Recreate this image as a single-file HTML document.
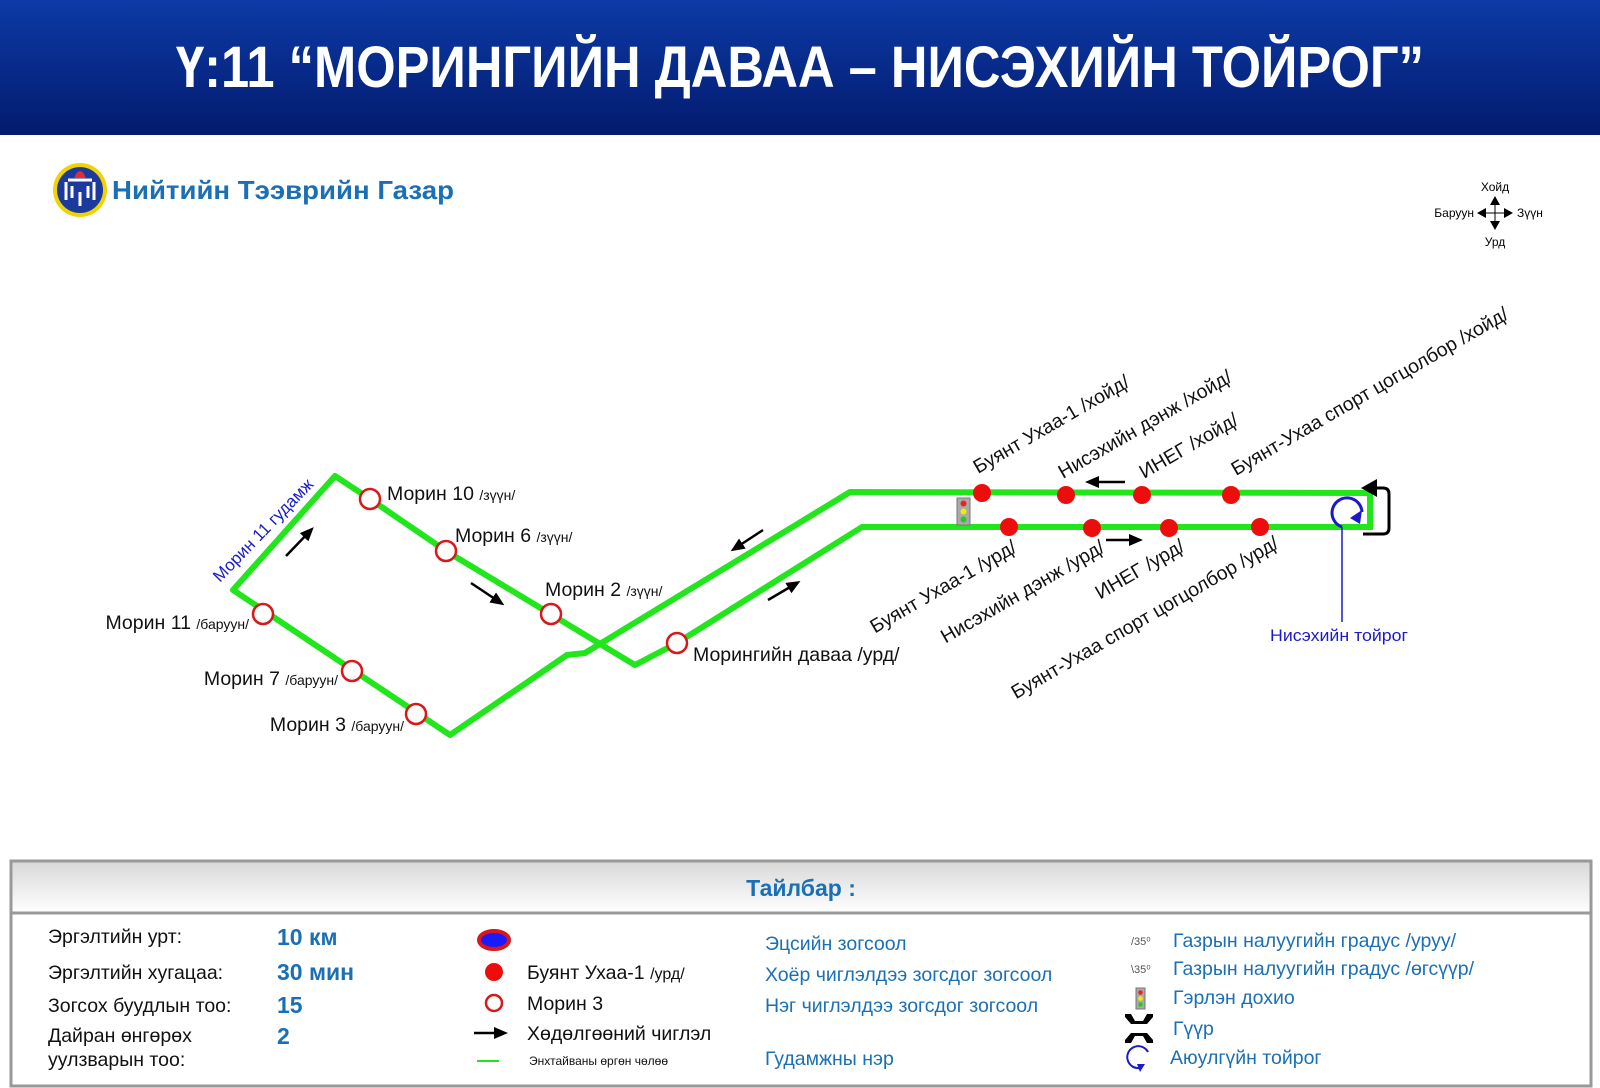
<!DOCTYPE html>
<html><head><meta charset="utf-8"><style>
html,body{margin:0;padding:0;background:#fff;}
svg{display:block;}
text{font-family:"Liberation Sans",Arial,sans-serif;}
</style></head><body>
<svg width="1600" height="1088" viewBox="0 0 1600 1088" xmlns="http://www.w3.org/2000/svg">
<defs>
<linearGradient id="hdr" x1="0" y1="0" x2="0" y2="1">
<stop offset="0" stop-color="#0c3aa6"/><stop offset="1" stop-color="#031b6e"/>
</linearGradient>
<linearGradient id="lg" x1="0" y1="0" x2="0" y2="1">
<stop offset="0" stop-color="#d9d9d9"/><stop offset="1" stop-color="#ffffff"/>
</linearGradient>
<marker id="ah2" markerWidth="14" markerHeight="12" refX="10" refY="6" orient="auto" markerUnits="userSpaceOnUse">
<path d="M0,0 L14,6 L0,12 Z" fill="#000"/></marker>
</defs>
<rect x="0" y="0" width="1600" height="135" fill="url(#hdr)"/>
<text x="800" y="87" text-anchor="middle" font-size="58" font-weight="bold" fill="#fff" textLength="1248" lengthAdjust="spacingAndGlyphs">Ү:11 “МОРИНГИЙН ДАВАА – НИСЭХИЙН ТОЙРОГ”</text>

<!-- logo -->
<circle cx="80" cy="190" r="27" fill="#f2d300"/>
<circle cx="80" cy="190" r="23" fill="#1a3a9e"/>
<path d="M68,180 h24 M66,182 v18 M94,182 v18 M72,186 v12 M88,186 v12 M80,192 v14" stroke="#fff" stroke-width="3" fill="none"/>
<path d="M74,178 q6,-14 12,0 z" fill="#e03030"/>
<text x="112" y="199" font-size="26" font-weight="bold" fill="#1a6fb5" textLength="342" lengthAdjust="spacingAndGlyphs">Нийтийн Тээврийн Газар</text>

<!-- compass -->
<g fill="#000">
<line x1="1479" y1="213" x2="1511" y2="213" stroke="#000" stroke-width="1"/>
<line x1="1495" y1="198" x2="1495" y2="228" stroke="#000" stroke-width="1"/>
<path d="M1495,196 l-5,9 h10z M1495,230 l-5,-9 h10z M1477,213 l9,-5 v10z M1513,213 l-9,-5 v10z"/>
</g>
<text x="1495" y="191" font-size="12" text-anchor="middle">Хойд</text>
<text x="1495" y="246" font-size="12" text-anchor="middle">Урд</text>
<text x="1474" y="217" font-size="12" text-anchor="end">Баруун</text>
<text x="1517" y="217" font-size="12">Зүүн</text>

<!-- routes -->
<g fill="none" stroke="#22e61c" stroke-width="6" stroke-linejoin="round">
<polyline points="1370,527 862,527 677,643 635,665 446,551 370,499 335,476 233,590 450,735 567,655 585,653 850,492 1370,493"/>
<line x1="1370" y1="490" x2="1370" y2="530"/>
</g>

<g fill="#fff" stroke="#d8181a" stroke-width="2.5">
<circle cx="370" cy="499" r="10"/>
<circle cx="446" cy="551" r="10"/>
<circle cx="551" cy="614" r="10"/>
<circle cx="677" cy="643" r="10"/>
<circle cx="263" cy="614" r="10"/>
<circle cx="352" cy="671" r="10"/>
<circle cx="416" cy="714" r="10"/>
</g>
<g fill="#ee0d0d">
<circle cx="982" cy="493" r="9"/><circle cx="1066" cy="495" r="9"/><circle cx="1142" cy="495" r="9"/><circle cx="1231" cy="495" r="9"/>
<circle cx="1009" cy="527" r="9"/><circle cx="1092" cy="528" r="9"/><circle cx="1169" cy="528" r="9"/><circle cx="1260" cy="527" r="9"/>
</g>
<rect x="957" y="498" width="13" height="27" fill="#aaa" stroke="#777"/>
<circle cx="963.5" cy="503.5" r="3" fill="#e22"/><circle cx="963.5" cy="511.5" r="3" fill="#ee0"/><circle cx="963.5" cy="519.5" r="3" fill="#2c2"/>

<!-- roundabout -->
<path d="M1342,527 A15,15 0 1 1 1362,512" fill="none" stroke="#1a1acc" stroke-width="3"/>
<path d="M1362,510 l-2,14 l-10,-6z" fill="#1a1acc"/>
<line x1="1342" y1="527" x2="1342" y2="622" stroke="#1a1acc" stroke-width="1.5"/>
<text x="1270" y="641" font-size="17" fill="#1a1acc" textLength="138" lengthAdjust="spacingAndGlyphs">Нисэхийн тойрог</text>
<path d="M1363,534 h20 q6,0 6,-6 v-34 q0,-6 -6,-6 h-10" fill="none" stroke="#000" stroke-width="3"/>
<path d="M1361,488 l16,-9 v18z" fill="#000"/>

<g stroke="#000" stroke-width="2.5" marker-end="url(#ah2)">
<line x1="286" y1="556" x2="311" y2="530"/>
<line x1="471" y1="583" x2="501" y2="603"/>
<line x1="763" y1="530" x2="734" y2="549"/>
<line x1="768" y1="600" x2="797" y2="583"/>
<line x1="1125" y1="482" x2="1089" y2="482"/>
<line x1="1106" y1="540" x2="1139" y2="540"/>
</g>

<g font-size="19.5" fill="#111">
<text x="387" y="500">Морин 10 <tspan font-size="14">/зүүн/</tspan></text>
<text x="455" y="542">Морин 6 <tspan font-size="14">/зүүн/</tspan></text>
<text x="545" y="596">Морин 2 <tspan font-size="14">/зүүн/</tspan></text>
<text x="693" y="661">Морингийн даваа /урд/</text>
<text x="249" y="629" text-anchor="end">Морин 11 <tspan font-size="14">/баруун/</tspan></text>
<text x="338" y="685" text-anchor="end">Морин 7 <tspan font-size="14">/баруун/</tspan></text>
<text x="404" y="731" text-anchor="end">Морин 3 <tspan font-size="14">/баруун/</tspan></text>
</g>
<text transform="translate(220,583) rotate(-46)" font-size="17" fill="#1a1acc">Морин 11 гудамж</text>

<g font-size="19.5" fill="#111">
<text transform="translate(978,474) rotate(-30)">Буянт Ухаа-1 /хойд/</text>
<text transform="translate(1063,479) rotate(-30)">Нисэхийн дэнж /хойд/</text>
<text transform="translate(1144,479) rotate(-30)">ИНЕГ /хойд/</text>
<text transform="translate(1236,476) rotate(-30)">Буянт-Ухаа спорт цогцолбор /хойд/</text>
<text transform="translate(1018,551) rotate(-30)" text-anchor="end">Буянт Ухаа-1 /урд/</text>
<text transform="translate(1106,551) rotate(-30)" text-anchor="end">Нисэхийн дэнж /урд/</text>
<text transform="translate(1186,550) rotate(-30)" text-anchor="end">ИНЕГ /урд/</text>
<text transform="translate(1280,547) rotate(-30)" text-anchor="end">Буянт-Ухаа спорт цогцолбор /урд/</text>
</g>

<!-- legend -->
<rect x="11" y="861" width="1580" height="225" fill="#fff" stroke="#999" stroke-width="3"/>
<rect x="12.5" y="862.5" width="1577" height="50" fill="url(#lg)"/>
<line x1="11" y1="913" x2="1591" y2="913" stroke="#999" stroke-width="3"/>
<text x="801" y="896" font-size="23" font-weight="bold" fill="#1a6fb5" text-anchor="middle">Тайлбар :</text>

<g font-size="19.5" fill="#111">
<text x="48" y="943">Эргэлтийн урт:</text>
<text x="48" y="979">Эргэлтийн хугацаа:</text>
<text x="48" y="1012">Зогсох буудлын тоо:</text>
<text x="48" y="1042">Дайран өнгөрөх</text>
<text x="48" y="1066">уулзварын тоо:</text>
</g>
<g font-size="23" font-weight="bold" fill="#1a6fb5">
<text x="277" y="945">10 км</text>
<text x="277" y="980">30 мин</text>
<text x="277" y="1013">15</text>
<text x="277" y="1044">2</text>
</g>
<ellipse cx="494" cy="940" rx="15" ry="9" fill="#1a1aff" stroke="#d8181a" stroke-width="4"/>
<circle cx="494" cy="972" r="9" fill="#ee0d0d"/>
<circle cx="494" cy="1003" r="8" fill="#fff" stroke="#d8181a" stroke-width="2.5"/>
<line x1="474" y1="1033" x2="504" y2="1033" stroke="#000" stroke-width="2.5" marker-end="url(#ah2)"/>
<line x1="477" y1="1061" x2="499" y2="1061" stroke="#22e61c" stroke-width="2"/>
<g font-size="19.5" fill="#111">
<text x="527" y="979">Буянт Ухаа-1 <tspan font-size="16">/урд/</tspan></text>
<text x="527" y="1010">Морин 3</text>
<text x="527" y="1040">Хөдөлгөөний чиглэл</text>
<text x="529" y="1065" font-size="12">Энхтайваны өргөн чөлөө</text>
</g>
<g font-size="19.5" fill="#1a6fb5">
<text x="765" y="950">Эцсийн зогсоол</text>
<text x="765" y="981">Хоёр чиглэлдээ зогсдог зогсоол</text>
<text x="765" y="1012">Нэг чиглэлдээ зогсдог зогсоол</text>
<text x="765" y="1065">Гудамжны нэр</text>
<text x="1173" y="947">Газрын налуугийн градус /уруу/</text>
<text x="1173" y="975">Газрын налуугийн градус /өгсүүр/</text>
<text x="1173" y="1004">Гэрлэн дохио</text>
<text x="1173" y="1035">Гүүр</text>
<text x="1170" y="1064">Аюулгүйн тойрог</text>
</g>
<text x="1131" y="945" font-size="11" fill="#555">/35⁰</text>
<text x="1131" y="973" font-size="11" fill="#555">\35⁰</text>
<rect x="1136" y="988" width="9" height="21" fill="#aaa" stroke="#777"/>
<circle cx="1140.5" cy="992.5" r="2.3" fill="#e22"/><circle cx="1140.5" cy="998.5" r="2.3" fill="#ee0"/><circle cx="1140.5" cy="1004.5" r="2.3" fill="#2c2"/>
<path d="M1125,1014 h6 l4,7 h8 l4,-7 h6 v3 l-6,7 h-16 l-6,-7z M1125,1043 h6 l4,-7 h8 l4,7 h6 v-3 l-6,-7 h-16 l-6,7z" fill="#000"/>
<path d="M1148,1052 A11,11 0 1 0 1140,1068" fill="none" stroke="#1a1acc" stroke-width="2"/>
<path d="M1137,1064 l8,0 l-5,8z" fill="#1a1acc"/>
</svg>
</body></html>
